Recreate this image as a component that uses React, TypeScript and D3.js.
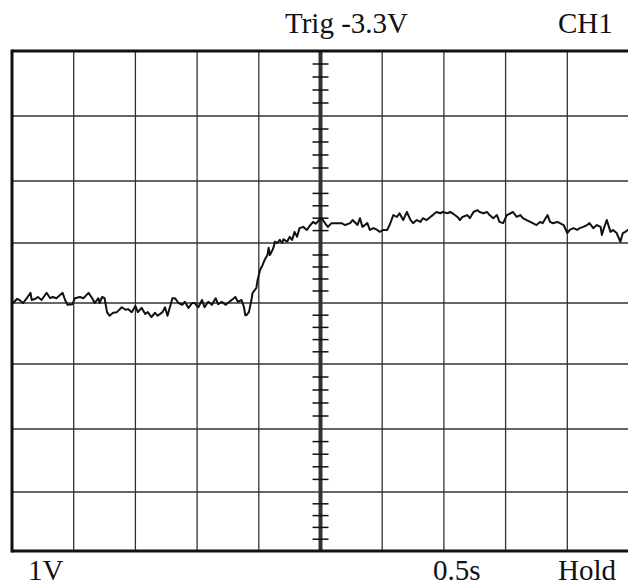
import React from 'react';
import * as d3 from 'd3';

// scope trace: 0.5 s/div, 1 V/div
const times = [
  0.01, 0.04, 0.06, 0.09, 0.12, 0.15, 0.16, 0.19, 0.21, 0.24, 0.28, 0.31, 0.33, 0.36, 0.41, 0.43, 0.45, 0.49, 0.51, 0.55,
  0.58, 0.62, 0.65, 0.67, 0.70, 0.71, 0.73, 0.75, 0.77, 0.79, 0.82, 0.85, 0.89, 0.92, 0.94, 0.97, 1.00, 1.02, 1.05, 1.08,
  1.10, 1.13, 1.16, 1.18, 1.22, 1.24, 1.26, 1.30, 1.32, 1.35, 1.38, 1.40, 1.43, 1.46, 1.48, 1.51, 1.54, 1.56, 1.59, 1.62,
  1.65, 1.67, 1.70, 1.73, 1.75, 1.78, 1.81, 1.83, 1.86, 1.88, 1.89, 1.90, 1.92, 1.94, 1.95, 1.98, 1.99, 2.01, 2.03, 2.05,
  2.07, 2.08, 2.09, 2.11, 2.12, 2.13, 2.15, 2.17, 2.19, 2.20, 2.23, 2.25, 2.27, 2.29, 2.31, 2.33, 2.36, 2.39, 2.41, 2.44,
  2.46, 2.49, 2.51, 2.54, 2.56, 2.59, 2.63, 2.67, 2.70, 2.74, 2.76, 2.80, 2.82, 2.84, 2.88, 2.90, 2.93, 2.96, 2.98, 3.01,
  3.04, 3.06, 3.09, 3.12, 3.14, 3.17, 3.20, 3.23, 3.25, 3.28, 3.31, 3.33, 3.36, 3.39, 3.41, 3.44, 3.47, 3.49, 3.53, 3.55,
  3.57, 3.61, 3.63, 3.65, 3.69, 3.71, 3.74, 3.77, 3.79, 3.82, 3.85, 3.87, 3.90, 3.93, 3.95, 3.98, 4.01, 4.04, 4.06, 4.09,
  4.12, 4.14, 4.17, 4.20, 4.22, 4.25, 4.28, 4.30, 4.34, 4.36, 4.38, 4.42, 4.44, 4.47, 4.50, 4.52, 4.55, 4.58, 4.60, 4.63,
  4.66, 4.68, 4.71, 4.74, 4.77, 4.78, 4.80, 4.82, 4.85, 4.87, 4.90, 4.93, 4.95, 4.97, 4.99,
];
const volts = [
  0, 0.07, 0.05, 0, 0.08, 0.17, 0.05, 0.07, 0.10, 0.05, 0.17, 0.08, 0.10, 0.08, 0.17, 0.05, -0.03, -0.02, 0.08, 0.10,
  0.08, 0.17, 0.08, 0, 0.08, 0, 0.10, 0.08, -0.15, -0.21, -0.16, -0.15, -0.07, -0.11, -0.10, -0.15, -0.05, -0.15, -0.08, -0.18,
  -0.15, -0.23, -0.16, -0.21, -0.15, -0.07, -0.21, 0.08, 0.08, 0, -0.03, 0.02, -0.08, 0, 0, -0.07, 0.05, -0.07, 0.02, -0.03,
  0.08, -0.02, 0.02, -0.03, 0, 0.05, 0.10, 0.02, 0.05, -0.07, -0.20, -0.20, -0.15, 0.05, 0.17, 0.25, 0.38, 0.55, 0.63, 0.73,
  0.80, 0.92, 0.80, 0.88, 0.93, 1.02, 1.00, 1.05, 1.00, 1.06, 1.02, 1.10, 1.05, 1.18, 1.10, 1.24, 1.26, 1.21, 1.27, 1.34,
  1.31, 1.37, 1.40, 1.31, 1.26, 1.32, 1.32, 1.32, 1.29, 1.32, 1.37, 1.29, 1.40, 1.26, 1.32, 1.21, 1.24, 1.21, 1.18, 1.21,
  1.21, 1.29, 1.45, 1.42, 1.48, 1.37, 1.50, 1.37, 1.32, 1.37, 1.34, 1.40, 1.37, 1.42, 1.45, 1.50, 1.48, 1.50, 1.48, 1.50,
  1.48, 1.42, 1.37, 1.42, 1.45, 1.40, 1.50, 1.53, 1.50, 1.48, 1.50, 1.45, 1.40, 1.45, 1.34, 1.32, 1.45, 1.48, 1.50, 1.42,
  1.45, 1.40, 1.37, 1.34, 1.32, 1.29, 1.34, 1.32, 1.45, 1.34, 1.32, 1.34, 1.32, 1.29, 1.16, 1.21, 1.24, 1.21, 1.24, 1.26,
  1.29, 1.32, 1.24, 1.29, 1.26, 1.13, 1.26, 1.37, 1.18, 1.21, 1.16, 1.02, 1.16, 1.18, 1.21,
];

const timeDivs = d3.range(0, 5.01, 0.5);
const voltDivs = d3.range(-4, 4.01, 1);
const minorTicks = d3.range(-4, 4.01, 0.2).filter(v => Math.abs(v - Math.round(v)) > 0.01);

const topLabels = [
  { text: 'Trig -3.3V', x: 285 },
  { text: 'CH1', x: 558 },
];
const bottomLabels = [
  { text: '1V', x: 28 },
  { text: '0.5s', x: 433 },
  { text: 'Hold', x: 558 },
];

const App = () => {
  const width = 628;
  const height = 588;

  const x = d3.scaleLinear().domain([0, 5]).range([12, 629]);
  // graticule on the scan is a little uneven, so map each division
  const y = d3.scaleLinear()
    .domain([4, 3, 2, 1, 0, -1, -2, -3, -4])
    .range([51, 116, 181, 243, 303, 364, 429, 492, 551]);

  const points: [number, number][] = times.map((t, i) => [t, volts[i]]);
  const line = d3.line<[number, number]>()
    .x(d => x(d[0]))
    .y(d => y(d[1]));

  const font = '"Liberation Serif", "Times New Roman", serif';

  return (
    <div style={{ position: 'absolute', left: 0, top: 0, width, height, background: '#fff' }}>
      <svg width={width} height={height} style={{ display: 'block' }}>
        <rect width={width} height={height} fill="#fff" />
        <g>
          {timeDivs.slice(1, -1).map(t => (
            <line key={'v' + t} x1={x(t)} x2={x(t)} y1={y(4)} y2={y(-4)}
              stroke="#333" strokeWidth={t === 2.5 ? 4 : 1.3} />
          ))}
          {voltDivs.slice(1, -1).map(v => (
            <line key={'h' + v} x1={x(0)} x2={x(5)} y1={y(v)} y2={y(v)}
              stroke="#333" strokeWidth={1.3} />
          ))}
          {minorTicks.map(v => (
            <line key={'m' + v} x1={x(2.5) - 8} x2={x(2.5) + 8} y1={y(v)} y2={y(v)}
              stroke="#111" strokeWidth={1.5} />
          ))}
          <line x1={x(0)} x2={x(5)} y1={y(4)} y2={y(4)} stroke="#111" strokeWidth={3} />
          <line x1={x(0)} x2={x(5)} y1={y(-4)} y2={y(-4)} stroke="#111" strokeWidth={3} />
          <line x1={x(0)} x2={x(0)} y1={y(4) - 1.5} y2={y(-4) + 1.5} stroke="#111" strokeWidth={3} />
        </g>
        <path d={line(points) ?? ''} fill="none" stroke="#111" strokeWidth={2}
          strokeLinejoin="round" strokeLinecap="round" />
        {topLabels.map(l => (
          <text key={l.text} x={l.x} y={33} fontFamily={font} fontSize={29} fill="#111">{l.text}</text>
        ))}
        {bottomLabels.map(l => (
          <text key={l.text} x={l.x} y={580} fontFamily={font} fontSize={29} fill="#111">{l.text}</text>
        ))}
      </svg>
    </div>
  );
};

export default App;
